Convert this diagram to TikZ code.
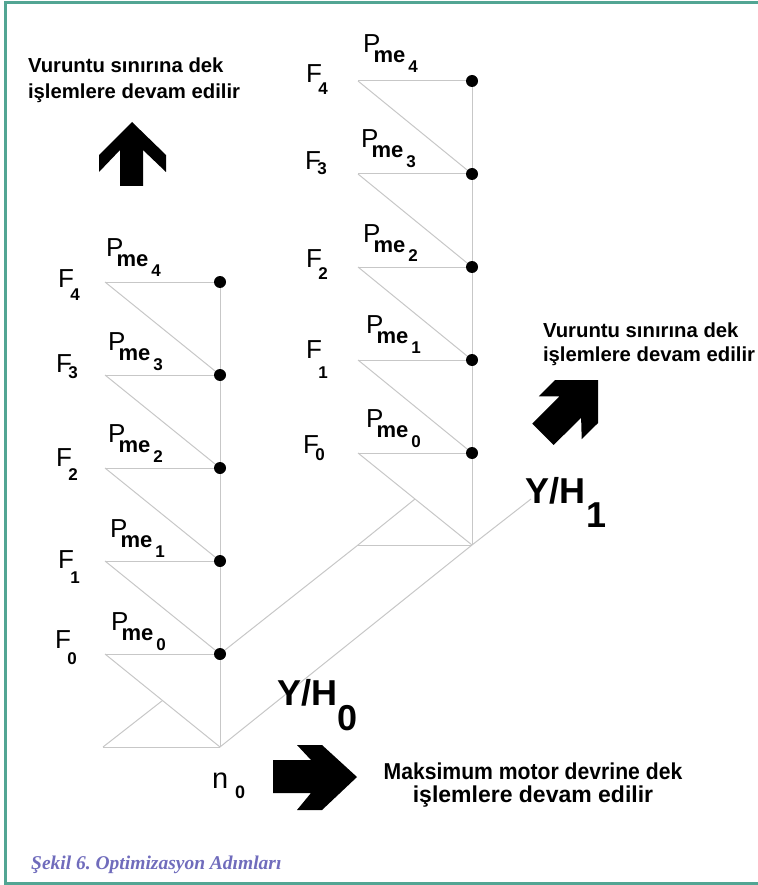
\documentclass[tikz,border=0pt]{standalone}
\usepackage{fontspec}
\setmainfont{Liberation Sans}
\newfontfamily\capfont{Liberation Serif}
\usetikzlibrary{calc}
\definecolor{frameteal}{RGB}{82,165,147}
\definecolor{capblue}{RGB}{112,108,188}
\newcommand{\Flab}[2][13]{F\kern-3.5pt\raisebox{-#1pt}{\fontsize{17}{17}\selectfont\bfseries #2}}
\newcommand{\Pmelab}[1]{P\kern-6.8pt\raisebox{-10pt}{\fontsize{22}{22}\selectfont\bfseries me}\kern3pt\raisebox{-20pt}{\fontsize{17}{17}\selectfont\bfseries #1}}
\frenchspacing
\begin{document}
\begin{tikzpicture}[x=1pt,y=-1pt,
  grid/.style={draw=black!22, line width=1pt},
  dot/.style={circle, fill=black, inner sep=0pt, minimum size=12pt},
  lab/.style={anchor=base west, inner sep=0pt, outer sep=0pt, font=\fontsize{26}{26}\selectfont},
  yhlab/.style={anchor=base west, inner sep=0pt, outer sep=0pt, font=\fontsize{36}{36}\selectfont\bfseries},
  note/.style={anchor=base west, inner sep=0pt, outer sep=0pt, font=\fontsize{20.3}{20.3}\selectfont\bfseries},
  bignote/.style={anchor=base, inner sep=0pt, outer sep=0pt, font=\fontsize{23}{23}\selectfont\bfseries},
  blockarrow/.style={fill=black}]
\useasboundingbox (0,0) rectangle (757,885);
% frame
\draw[frameteal, line width=3.2pt, line join=miter] (760,2.8) -- (5.5,2.8) -- (5.5,884) -- (760,884);

% left structure coordinates
\foreach \i/\y in {0/654,1/561,2/468,3/375,4/282} {
  \coordinate (LA\i) at (105,\y);
  \coordinate (LB\i) at (220,\y);
}
\coordinate (LAb) at (103,747);
\coordinate (LBb) at (220,747);
% right structure coordinates
\foreach \i/\y in {0/453,1/360,2/267,3/174,4/81} {
  \coordinate (RA\i) at (358,\y);
  \coordinate (RB\i) at (472,\y);
}
\coordinate (RAb) at (358,545);
\coordinate (RBb) at (472,545);
\coordinate (Yend) at (531,499);

% left grid
\foreach \i in {0,...,4} \draw[grid] (LA\i) -- (LB\i);
\draw[grid] (LAb) -- (LBb);
\foreach \i/\j in {4/3,3/2,2/1,1/0} \draw[grid] (LA\i) -- (LB\j);
\draw[grid] (LA0) -- (LBb);
\draw[grid] (LAb) -- ($(LA0)!0.5!(LBb)$);
\draw[grid] (LB4) -- (LBb);
% right grid
\foreach \i in {0,...,4} \draw[grid] (RA\i) -- (RB\i);
\draw[grid] (RAb) -- (RBb);
\foreach \i/\j in {4/3,3/2,2/1,1/0} \draw[grid] (RA\i) -- (RB\j);
\draw[grid] (RA0) -- (RBb);
\draw[grid] (RAb) -- ($(RA0)!0.5!(RBb)$);
\draw[grid] (RB4) -- (RBb);
% connecting lines
\draw[grid] (LB0) -- (RAb);
\draw[grid] (LBb) -- (RBb) -- (Yend);

% dots
\foreach \i in {0,...,4} {
  \node[dot] (LD\i) at (LB\i) {};
  \node[dot] (RD\i) at (RB\i) {};
}

% left labels
\node[lab] (lP4) at (106,256) {\Pmelab{4}};
\node[lab] (lP3) at (108,350) {\Pmelab{3}};
\node[lab] (lP2) at (108,442) {\Pmelab{2}};
\node[lab] (lP1) at (110,537) {\Pmelab{1}};
\node[lab] (lP0) at (111,630) {\Pmelab{0}};
\node[lab] (lF4) at (58,287) {\Flab[13]{4}};
\node[lab] (lF3) at (56,372) {\Flab[6]{3}};
\node[lab] (lF2) at (56,466) {\Flab[14]{2}};
\node[lab] (lF1) at (58,568) {\Flab[15]{1}};
\node[lab] (lF0) at (55,648) {\Flab[16]{0}};
% right labels
\node[lab] (rP4) at (363,53) {\Pmelab{4}};
\node[lab] (rP3) at (361,148) {\Pmelab{3}};
\node[lab] (rP2) at (363,242) {\Pmelab{2}};
\node[lab] (rP1) at (366,333) {\Pmelab{1}};
\node[lab] (rP0) at (366,427) {\Pmelab{0}};
\node[lab] (rF4) at (306,83) {\Flab[12]{4}};
\node[lab] (rF3) at (305,170) {\Flab[5]{3}};
\node[lab] (rF2) at (306,267) {\Flab[12]{2}};
\node[lab] (rF1) at (306,358) {\Flab[20]{1}};
\node[lab] (rF0) at (303,453) {\Flab[7]{0}};

% axis labels
\node[yhlab] (yh1) at (525,503) {Y/H\kern1pt\raisebox{-24pt}{1}};
\node[yhlab] (yh0) at (277,705) {Y/H\kern0pt\raisebox{-25pt}{0}};
\node[lab, font=\fontsize{29}{29}\selectfont] (n0) at (212,788) {n\kern7pt\raisebox{-10pt}{\fontsize{18}{18}\selectfont\bfseries 0}};

% notes
\node[note] (tl1) at (28,73) {Vuruntu sınırına dek};
\node[note] (tl2) at (28,99) {işlemlere devam edilir};
\node[note] (tr1) at (543,337) {Vuruntu sınırına dek};
\node[note] (tr2) at (543,361) {işlemlere devam edilir};
\node[bignote] (b1) at (533,779) {\scalebox{0.92}[1]{Maksimum motor devrine dek}};
\node[bignote] (b2) at (533,802) {işlemlere devam edilir};

% caption
\node[anchor=base west, inner sep=0pt, text=capblue, font=\capfont\bfseries\itshape\fontsize{19.5}{19.5}\selectfont] (cap) at (31,869) {Şekil 6.\ Optimizasyon Adımları};

% block arrows
\fill[blockarrow] (132,122) -- (166,155) -- (166,172) -- (143,150) -- (143,186) -- (120,186) -- (120,150) -- (99,172) -- (99,155) -- cycle;
\fill[blockarrow] (357,777) -- (322,745) -- (297,745) -- (311,760) -- (273,760) -- (273,793) -- (311,793) -- (297,810) -- (322,810) -- cycle;
\fill[blockarrow] (598,380) -- (555.0,380) -- (538.8,396.3) -- (559.6,396.3) -- (532.3,423.6) -- (553.7,445.0) -- (581.1,417.7) -- (581.7,439.2) -- (598,423.0) -- cycle;
\end{tikzpicture}
\end{document}
